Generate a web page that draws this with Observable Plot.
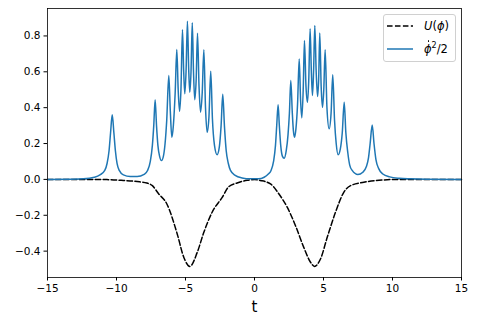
<!DOCTYPE html>
<html>
<head>
<meta charset="utf-8">
<script src="https://cdn.jsdelivr.net/npm/d3@7"></script>
<script src="https://cdn.jsdelivr.net/npm/@observablehq/plot@0.6"></script>
<style>
  html, body { margin: 0; padding: 0; background: #fff; }
  #wrap { position: relative; width: 478px; height: 329px; font-family: "DejaVu Sans", sans-serif; }
  #legend { position: absolute; left: 383px; top: 14px; width: 73px; height: 48px;
            border: 1px solid #d0d0d0; border-radius: 3px; background: rgba(255,255,255,0.8);
            box-sizing: border-box; }
  .row { position: absolute; left: 3px; height: 14px; display: flex; align-items: center; }
  .row svg { margin-right: 11px; }
  .lbl { font-family: "DejaVu Sans", sans-serif; font-size: 11.5px; white-space: nowrap; color: #000; }
  .dot { position: relative; display: inline-block; }
  .dot span { position: absolute; left: 3.5px; top: -2px; width: 1.8px; height: 1.8px; border-radius: 50%; background: #000; }
  sup { font-size: 8px; vertical-align: 5px; line-height: 0; }
</style>
</head>
<body>
<div id="wrap"></div>
<script>
// U(phi) series
const tU = [-15, -12, -10.7, -9.5, -8.5, -7.8, -7.4, -6.95, -6.35, -5.6, -5.12, -4.68, -4.15, -3.67, -3.07, -2.34, -1.86, -1.26, -0.53, 0, 0.43, 1.16, 1.76, 2.37, 2.97, 3.57, 4.06, 4.35, 4.78, 5.27, 5.87, 6.47, 6.96, 7.92, 9.37, 10.34, 15];
const U  = [0, 0, -0.001, -0.006, -0.012, -0.02, -0.035, -0.08, -0.137, -0.304, -0.435, -0.485, -0.407, -0.295, -0.183, -0.1, -0.04, -0.02, -0.005, -0.001, -0.006, -0.025, -0.08, -0.155, -0.258, -0.379, -0.462, -0.485, -0.444, -0.323, -0.183, -0.072, -0.035, -0.016, -0.003, 0, 0];

// phidot^2/2 series
const tK = [-15, -13.5, -12.4, -11.6, -11.2, -10.85, -10.68, -10.54, -10.43, -10.31, -10.19, -10.08, -9.96, -9.8, -9.5, -9.0, -8.5, -8.0, -7.75, -7.55, -7.4, -7.3, -7.2, -7.1, -7.0, -6.88, -6.74, -6.6, -6.48, -6.36, -6.21, -6.1, -5.99, -5.88, -5.75, -5.63, -5.53, -5.43, -5.33, -5.22, -5.13, -5.05, -4.96, -4.86, -4.77, -4.69, -4.6, -4.51, -4.42, -4.33, -4.23, -4.13, -4.02, -3.91, -3.79, -3.67, -3.55, -3.43, -3.3, -3.17, -3.05, -2.9, -2.71, -2.55, -2.42, -2.30, -2.18, -2.05, -1.9, -1.74, -1.4, -0.9, -0.3, 0.3, 0.7, 1.0, 1.2, 1.38, 1.52, 1.61, 1.71, 1.8, 1.9, 2.02, 2.15, 2.3, 2.43, 2.53, 2.63, 2.74, 2.82, 2.9, 3.0, 3.12, 3.24, 3.34, 3.43, 3.53, 3.62, 3.73, 3.84, 3.93, 4.03, 4.12, 4.2, 4.28, 4.37, 4.47, 4.57, 4.65, 4.73, 4.83, 4.93, 5.02, 5.12, 5.25, 5.41, 5.55, 5.67, 5.8, 5.92, 6.06, 6.22, 6.36, 6.5, 6.62, 6.76, 6.9, 7.08, 7.49, 7.85, 8.1, 8.26, 8.38, 8.53, 8.66, 8.8, 9.0, 9.3, 9.8, 10.5, 11.3, 12.5, 15];
const K  = [0, 0.001, 0.003, 0.012, 0.025, 0.05, 0.09, 0.16, 0.26, 0.36, 0.26, 0.16, 0.09, 0.05, 0.025, 0.016, 0.016, 0.028, 0.05, 0.1, 0.19, 0.3, 0.444, 0.3, 0.19, 0.13, 0.105, 0.13, 0.2, 0.33, 0.579, 0.38, 0.235, 0.3, 0.48, 0.724, 0.5, 0.38, 0.5, 0.834, 0.6, 0.477, 0.6, 0.882, 0.62, 0.486, 0.6, 0.873, 0.6, 0.444, 0.55, 0.815, 0.52, 0.375, 0.48, 0.723, 0.4, 0.263, 0.35, 0.603, 0.34, 0.19, 0.138, 0.18, 0.3, 0.475, 0.3, 0.16, 0.09, 0.05, 0.022, 0.008, 0.003, 0.003, 0.012, 0.03, 0.05, 0.1, 0.19, 0.3, 0.416, 0.3, 0.19, 0.13, 0.118, 0.16, 0.25, 0.37, 0.551, 0.37, 0.27, 0.235, 0.28, 0.42, 0.672, 0.44, 0.343, 0.5, 0.775, 0.52, 0.43, 0.55, 0.84, 0.6, 0.468, 0.6, 0.858, 0.6, 0.462, 0.56, 0.817, 0.52, 0.402, 0.5, 0.723, 0.4, 0.282, 0.37, 0.583, 0.33, 0.2, 0.137, 0.17, 0.26, 0.43, 0.26, 0.15, 0.08, 0.05, 0.027, 0.04, 0.07, 0.12, 0.2, 0.304, 0.2, 0.11, 0.06, 0.03, 0.014, 0.006, 0.003, 0.001, 0];

const xTicks = [-15, -10, -5, 0, 5, 10, 15];
const yTicks = [-0.4, -0.2, 0.0, 0.2, 0.4, 0.6, 0.8];

const dataU = tU.map((t, i) => ({t, v: U[i]}));
const dataK = tK.map((t, i) => ({t, v: K[i]}));

const chart = Plot.plot({
  width: 478,
  height: 329,
  marginLeft: 47,
  marginRight: 17,
  marginTop: 8,
  marginBottom: 52,
  style: {fontFamily: "DejaVu Sans, sans-serif", fontSize: "10.5px", color: "#000", background: "#fff"},
  x: {domain: [-15, 15]},
  y: {domain: [-0.547, 0.953]},
  marks: [
    Plot.line(dataU, {x: "t", y: "v", stroke: "#000", strokeWidth: 1.5, strokeDasharray: "5.55,2.4", curve: "monotone-x"}),
    Plot.line(dataK, {x: "t", y: "v", stroke: "#1f77b4", strokeWidth: 1.5, curve: "monotone-x"}),
    Plot.frame({stroke: "#000", strokeWidth: 0.8}),
    Plot.axisX({ticks: xTicks, tickSize: 3.5, tickPadding: 3.5, tickFormat: d3.format("d"), label: null, fontSize: 10.5}),
    Plot.axisY({ticks: yTicks, tickSize: 3.5, tickPadding: 3.5, tickFormat: d3.format(".1f"), label: null, fontSize: 10.5}),
    Plot.text(["t"], {frameAnchor: "bottom", dy: 34, fontSize: 15, fill: "#000"})
  ]
});

const wrap = document.getElementById("wrap");
wrap.appendChild(chart);

const legend = document.createElement("div");
legend.id = "legend";
legend.innerHTML = `
  <div class="row" style="top:4px">
    <svg width="26" height="4"><line x1="0" y1="2" x2="26" y2="2" stroke="#000" stroke-width="1.5" stroke-dasharray="5.55,2.4"/></svg>
    <span class="lbl"><i>U</i>(<i>ϕ</i>)</span>
  </div>
  <div class="row" style="top:27px">
    <svg width="26" height="4"><line x1="0" y1="2" x2="26" y2="2" stroke="#1f77b4" stroke-width="1.5"/></svg>
    <span class="lbl"><span class="dot"><i>ϕ</i><span></span></span><sup>2</sup>/2</span>
  </div>`;
wrap.appendChild(legend);
</script>
</body>
</html>
